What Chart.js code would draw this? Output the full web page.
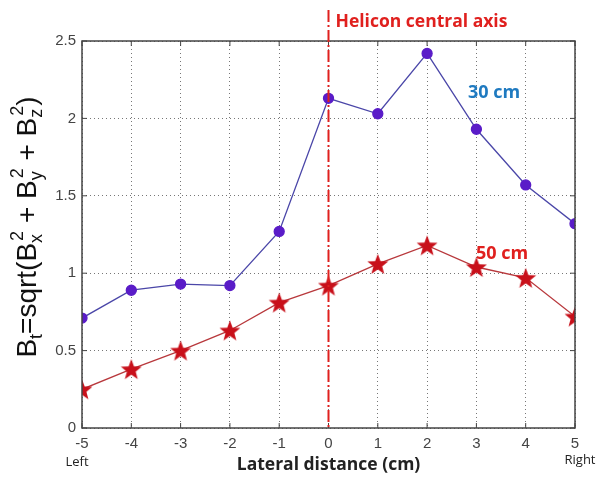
<!DOCTYPE html>
<html>
<head>
<meta charset="utf-8">
<script src="https://cdn.jsdelivr.net/npm/chart.js@4.4.1/dist/chart.umd.min.js"></script>
<style>
  html, body { margin: 0; padding: 0; background: #fff; }
  #wrap { width: 599px; height: 477px; }
</style>
</head>
<body>
<div id="wrap"><canvas id="myChart" width="599" height="477"></canvas></div>
<script>
// data
const positions = [-5, -4, -3, -2, -1, 0, 1, 2, 3, 4, 5];
const field30 = [0.71, 0.89, 0.93, 0.92, 1.27, 2.13, 2.03, 2.42, 1.93, 1.57, 1.32];
const field50 = [0.25, 0.38, 0.50, 0.63, 0.81, 0.92, 1.06, 1.18, 1.04, 0.97, 0.72];
const axisPosition = 0; // helicon central axis

// filled star marker (Chart.js "star" style is only stroked)
function makeStar(size, color) {
  const c = document.createElement("canvas");
  c.width = size; c.height = size;
  const g = c.getContext("2d");
  const cx = size / 2, cy = size / 2 + 1, ro = size / 2, ri = ro * 0.42;
  g.beginPath();
  for (let i = 0; i < 10; i++) {
    const r = i % 2 ? ri : ro;
    const a = -Math.PI / 2 + i * Math.PI / 5;
    g.lineTo(cx + r * Math.cos(a), cy + r * Math.sin(a));
  }
  g.closePath();
  g.fillStyle = color;
  g.fill();
  return c;
}
const star = makeStar(22, "#c8101a");

// extra drawing: frame, inward ticks, axis line, labels, y title
const decorations = {
  id: "decorations",
  afterDraw(chart) {
    const { ctx, chartArea: a, scales: { x, y } } = chart;
    ctx.save();
    // frame
    ctx.strokeStyle = "#444";
    ctx.lineWidth = 1.5;
    ctx.strokeRect(a.left, a.top, a.right - a.left, a.bottom - a.top);
    // inward ticks
    ctx.lineWidth = 1;
    positions.forEach(v => {
      const px = x.getPixelForValue(v);
      ctx.beginPath();
      ctx.moveTo(px, a.bottom); ctx.lineTo(px, a.bottom - 5);
      ctx.moveTo(px, a.top); ctx.lineTo(px, a.top + 5);
      ctx.stroke();
    });
    y.ticks.forEach(t => {
      const py = y.getPixelForValue(t.value);
      ctx.beginPath();
      ctx.moveTo(a.left, py); ctx.lineTo(a.left + 5, py);
      ctx.moveTo(a.right, py); ctx.lineTo(a.right - 5, py);
      ctx.stroke();
    });
    // helicon central axis
    const ax = x.getPixelForValue(axisPosition);
    ctx.strokeStyle = "#e0201e";
    ctx.lineWidth = 2;
    ctx.setLineDash([12, 3, 2, 3]);
    ctx.beginPath();
    ctx.moveTo(ax, 10); ctx.lineTo(ax, a.bottom);
    ctx.stroke();
    ctx.setLineDash([]);

    ctx.textBaseline = "middle";
    ctx.font = "bold 17.5px 'Open Sans', sans-serif";
    ctx.fillStyle = "#e0201e";
    ctx.textAlign = "left";
    ctx.fillText("Helicon central axis", ax + 7, 22);

    ctx.font = "bold 18px 'Open Sans', sans-serif";
    ctx.fillStyle = "#1f7ac0";
    ctx.fillText("30 cm", 468, 93);
    ctx.fillStyle = "#e0201e";
    ctx.fillText("50 cm", 476, 254);

    ctx.fillStyle = "#222";
    ctx.font = "13px 'Open Sans', sans-serif";
    ctx.textAlign = "center";
    ctx.fillText("Left", 77, 462);
    ctx.fillText("Right", 580, 460);

    ctx.font = "bold 17.5px 'Open Sans', sans-serif";
    ctx.fillText("Lateral distance (cm)", (a.left + a.right) / 2, 465);

    // y title with subscripts and superscripts
    const parts = [
      ["B"], ["t", "sub"], ["=sqrt(B"], ["x", "sub", "2"], [" + B"], ["y", "sub", "2"], [" + B"], ["z", "sub", "2"], [")"]
    ];
    const big = "28px 'Liberation Sans', Arial, sans-serif";
    const small = "18px 'Liberation Sans', Arial, sans-serif";
    let total = 0;
    const widths = parts.map(p => {
      ctx.font = p.length > 1 ? small : big;
      let w = ctx.measureText(p[0]).width;
      if (p[2]) w = Math.max(w, ctx.measureText(p[2]).width + 2);
      total += w;
      return w;
    });
    ctx.translate(26, 227);
    ctx.rotate(-Math.PI / 2);
    ctx.textAlign = "left";
    ctx.textBaseline = "alphabetic";
    ctx.fillStyle = "#111";
    let cx = -total / 2;
    parts.forEach((p, i) => {
      if (p.length > 1) {
        ctx.font = small;
        ctx.fillText(p[0], cx, 16);
        if (p[2]) ctx.fillText(p[2], cx + 2, -3);
      } else {
        ctx.font = big;
        ctx.fillText(p[0], cx, 10);
      }
      cx += widths[i];
    });
    ctx.restore();
  }
};

const ctx = document.getElementById("myChart").getContext("2d");
const myChart = new Chart(ctx, {
  type: "line",
  data: {
    datasets: [
      {
        label: "30 cm",
        data: positions.map((p, i) => ({ x: p, y: field30[i] })),
        borderColor: "#4a46a8",
        borderWidth: 1.3,
        pointBackgroundColor: "#5a1cc8",
        pointBorderColor: "#5a1cc8",
        pointRadius: 5,
        tension: 0,
      },
      {
        label: "50 cm",
        data: positions.map((p, i) => ({ x: p, y: field50[i] })),
        borderColor: "#b8383c",
        borderWidth: 1.3,
        pointStyle: star,
        tension: 0,
      },
    ],
  },
  options: {
    responsive: false,
    animation: false,
    layout: { padding: { left: 0, right: 24, top: 41, bottom: 0 } },
    plugins: { legend: { display: false }, tooltip: { enabled: false } },
    scales: {
      x: {
        type: "linear",
        min: -5, max: 5,
        afterFit: s => { s.height = 49; },
        ticks: { stepSize: 1, color: "#444", font: { size: 15, family: "'Liberation Sans', Arial" }, padding: 7 },
        grid: { color: "#777", lineWidth: 1, drawTicks: false },
        border: { display: false, dash: [1, 3] },
      },
      y: {
        min: 0, max: 2.5,
        afterFit: s => { s.width = 82; },
        ticks: {
          stepSize: 0.5, color: "#444", font: { size: 15, family: "'Liberation Sans', Arial" }, padding: 6,
          callback: v => String(v),
        },
        grid: { color: "#777", lineWidth: 1, drawTicks: false },
        border: { display: false, dash: [1, 3] },
      },
    },
  },
  plugins: [decorations],
});
</script>
</body>
</html>
